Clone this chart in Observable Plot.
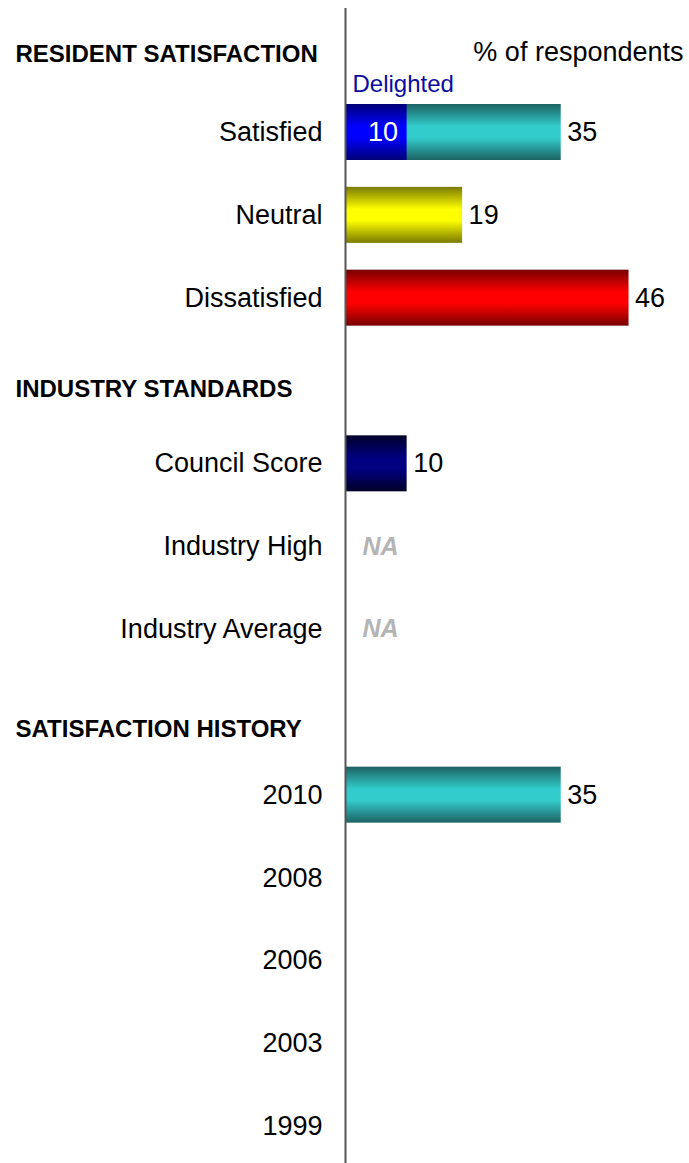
<!DOCTYPE html>
<html>
<head>
<meta charset="utf-8">
<script src="https://cdn.jsdelivr.net/npm/d3@7"></script>
<script src="https://cdn.jsdelivr.net/npm/@observablehq/plot@0.6"></script>
<style>
  html, body { margin: 0; padding: 0; background: #fff; }
  #chart svg { display: block; }
</style>
</head>
<body>
<div id="chart"></div>
<script>
// ---- data ----
const headers = ["RESIDENT SATISFACTION", "INDUSTRY STANDARDS", "SATISFACTION HISTORY"];
const groupSatisfaction = ["Satisfied", "Neutral", "Dissatisfied"];
const groupStandards = ["Council Score", "Industry High", "Industry Average"];
const groupHistory = ["2010", "2008", "2006", "2003", "1999"];
const satisfactionValues = [35, 19, 46];
const standardsValues = [10, null, null];
const historyValues = [35, null, null, null, null];
const notAvailable = ["Industry High", "Industry Average"];
const delightedLabel = "Delighted";
const delightedValue = 10;
const unitLabel = "% of respondents";
const barColors = {Satisfied: "teal", Neutral: "yellow", Dissatisfied: "red", "Council Score": "navy", "2010": "teal"};

// gradients: [edge, centre]
const gradients = {
  teal: ["#1d6262", "#33cccc"],
  blue: ["#000078", "#0000ff"],
  yellow: ["#7a7a00", "#ffff00"],
  red: ["#780000", "#ff0000"],
  navy: ["#000028", "#000080"]
};

const categories = [...groupSatisfaction, ...groupStandards, ...groupHistory];
const values = [...satisfactionValues, ...standardsValues, ...historyValues];
const yDomain = [headers[0], ...groupSatisfaction, headers[1], ...groupStandards, headers[2], ...groupHistory];

const bars = categories
  .map((c, i) => ({category: c, value: values[i], grad: barColors[c]}))
  .filter(d => d.value != null);
const delighted = [{category: "Satisfied", value: delightedValue}];

const font = "'Liberation Sans', Arial, sans-serif";
const headerDy = [5, 8, 17];

const marks = [];
for (const g of Object.keys(gradients)) {
  const subset = bars.filter(d => d.grad === g);
  if (subset.length) marks.push(Plot.barX(subset, {x: "value", y: "category", fill: `url(#grad-${g})`}));
}
marks.push(
  Plot.barX(delighted, {x: "value", y: "category", fill: "url(#grad-blue)"}),
  Plot.text(delighted, {x: "value", y: "category", text: d => String(d.value), textAnchor: "end", dx: -9, fill: "white", fontSize: 27}),
  Plot.text(delighted, {x: 0, y: "category", text: () => delightedLabel, textAnchor: "start", dx: 7, dy: -48, fill: "#0c0ca0", fontSize: 24}),
  Plot.text(bars, {x: "value", y: "category", text: d => String(d.value), textAnchor: "start", dx: 6, fill: "black", fontSize: 27}),
  Plot.text(notAvailable, {x: 0, y: d => d, text: () => "NA", textAnchor: "start", dx: 17, fill: "#b4b4b4", fontSize: 25, fontWeight: "bold", fontStyle: "italic"}),
  Plot.text(categories, {x: 0, y: d => d, text: d => d, textAnchor: "end", dx: -23, fill: "black", fontSize: 27}),
  ...headers.map((h, i) => Plot.text([h], {x: 0, y: d => d, text: d => d, textAnchor: "start", dx: -330, dy: headerDy[i], fill: "black", fontSize: 24, fontWeight: "bold"})),
  Plot.text([headers[0]], {x: 55, y: d => d, text: () => unitLabel, textAnchor: "end", dx: -1, dy: 3, fill: "black", fontSize: 27}),
  Plot.ruleX([0], {stroke: "#555", strokeWidth: 2})
);

const chart = Plot.plot({
  width: 689,
  height: 1163,
  marginLeft: 345,
  marginRight: 5,
  marginTop: 8,
  marginBottom: 0,
  x: {domain: [0, 55], axis: null},
  y: {type: "band", domain: yDomain, range: [7.75, 1167.4], paddingInner: 0.324, paddingOuter: 0.162, round: false, axis: null},
  style: {fontFamily: font, background: "white", overflow: "visible"},
  marks
});

const defs = d3.select(chart).insert("defs", ":first-child");
for (const [k, [edge, mid]] of Object.entries(gradients)) {
  const lg = defs.append("linearGradient").attr("id", `grad-${k}`).attr("x1", 0).attr("y1", 0).attr("x2", 0).attr("y2", 1);
  lg.append("stop").attr("offset", "0").attr("stop-color", edge);
  lg.append("stop").attr("offset", "0.4").attr("stop-color", mid);
  lg.append("stop").attr("offset", "0.6").attr("stop-color", mid);
  lg.append("stop").attr("offset", "1").attr("stop-color", edge);
}
document.getElementById("chart").appendChild(chart);
</script>
</body>
</html>
